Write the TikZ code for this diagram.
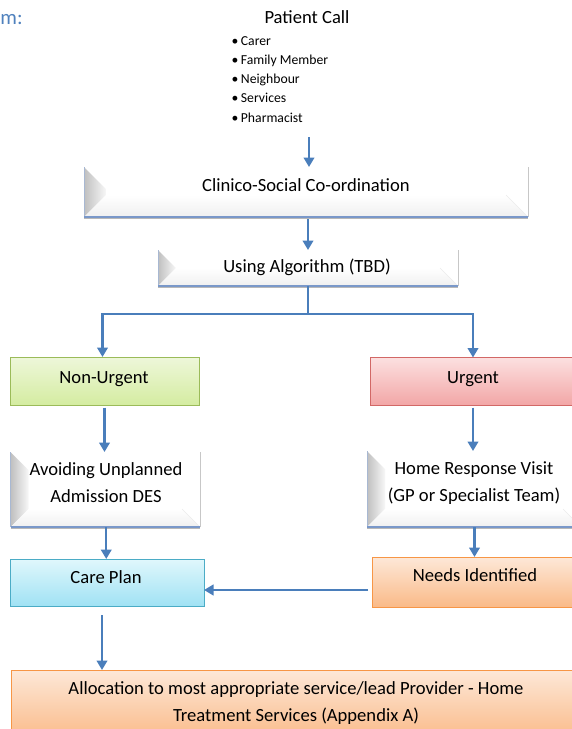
\documentclass[tikz,border=0pt]{standalone}
\usepackage{fontspec}
\setmainfont{Carlito}
\usetikzlibrary{arrows.meta,calc}
\definecolor{arrblue}{RGB}{74,126,187}
\definecolor{headblue}{RGB}{79,129,189}
\definecolor{greentop}{RGB}{238,247,218}
\definecolor{greenbot}{RGB}{212,236,160}
\definecolor{greenline}{RGB}{155,187,89}
\definecolor{redtop}{RGB}{252,224,224}
\definecolor{redbot}{RGB}{242,166,166}
\definecolor{redline}{RGB}{210,104,102}
\definecolor{cyantop}{RGB}{224,247,252}
\definecolor{cyanbot}{RGB}{160,226,244}
\definecolor{cyanline}{RGB}{75,172,198}
\definecolor{orangetop}{RGB}{253,232,216}
\definecolor{orangebot}{RGB}{250,186,136}
\definecolor{orangeline}{RGB}{247,150,70}
\definecolor{bevbot}{RGB}{122,152,201}
\definecolor{bevleft}{RGB}{168,184,210}
\newcommand\bevdeco[2]{%
  \fill[white] (#1.south west) rectangle (#1.north east);
  \shade[left color=black!25, right color=white!97!black] (#1.north west) -- ([xshift=#2,yshift=-#2]#1.north west) -- ([xshift=#2,yshift=#2]#1.south west) -- (#1.south west) -- cycle;
  \shade[top color=white, bottom color=black!6] (#1.south west) -- ([xshift=#2,yshift=#2]#1.south west) -- ([xshift=-#2,yshift=#2]#1.south east) -- (#1.south east) -- cycle;
  \draw[black!8, line width=0.6pt] ([xshift=-#2,yshift=#2]#1.south east) -- (#1.south east);
  \draw[bevleft, line width=1pt] (#1.north west) -- (#1.south west);
  \draw[black!22, line width=0.8pt] (#1.north east) -- (#1.south east);
  \draw[black!28, line width=1.2pt] ([yshift=-1.6pt]#1.south west) -- ([yshift=-1.6pt]#1.south east);
  \draw[bevbot, line width=1.8pt] (#1.south west) -- (#1.south east);
}
\tikzset{
  conn/.style={draw=arrblue, line width=2.4pt},
  arr/.style={conn, -{Triangle[width=10.5pt,length=9.5pt]}},
  txt/.style={font=\fontsize{18.6pt}{27pt}\selectfont, align=center, text=black, anchor=base},
  smalltxt/.style={font=\fontsize{13.7pt}{16pt}\selectfont, text=black, anchor=base west},
  greenbox/.style={top color=greentop, bottom color=greenbot, draw=greenline, line width=1pt},
  redbox/.style={top color=redtop, bottom color=redbot, draw=redline, line width=1pt},
  cyanbox/.style={top color=cyantop, bottom color=cyanbot, draw=cyanline, line width=1pt},
  orangebox/.style={top color=orangetop, bottom color=orangebot, draw=orangeline, line width=1pt},
  bevshape/.style={draw=none}
}
\begin{document}
\begin{tikzpicture}[x=1pt,y=-1pt, every node/.style={inner sep=0pt, outer sep=0pt}]
\useasboundingbox (0,0) rectangle (572,729);
\clip (0,0) rectangle (572,729);

% header and list
\node[font=\fontsize{20.8pt}{24pt}\selectfont, text=headblue, anchor=base west] (hd) at (0.5,24) {m:};
\node[txt] (pc) at (307,23.5) {Patient Call};
\node[smalltxt] (b1) at (231.5,45) {\textbullet\hspace{2.6pt}Carer};
\node[smalltxt] (b2) at (231.5,64.3) {\textbullet\hspace{2.6pt}Family Member};
\node[smalltxt] (b3) at (231.5,83.6) {\textbullet\hspace{2.6pt}Neighbour};
\node[smalltxt] (b4) at (231.5,102.9) {\textbullet\hspace{2.6pt}Services};
\node[smalltxt] (b5) at (231.5,122.2) {\textbullet\hspace{2.6pt}Pharmacist};
\coordinate (pcend) at (309,137);

% bevel boxes
\node[bevshape, minimum width=444pt, minimum height=50pt] (clin) at (306,192) {};
\bevdeco{clin}{22pt}
\node[bevshape, minimum width=300pt, minimum height=36pt] (using) at (308,268) {};
\bevdeco{using}{18pt}
\node[bevshape, minimum width=189.5pt, minimum height=75pt] (avd) at (105.25,489.5) {};
\bevdeco{avd}{18pt}
\node[bevshape, minimum width=214pt, minimum height=76pt] (home) at (474,489) {};
\bevdeco{home}{18pt}

% flat boxes
\node[greenbox, minimum width=189pt, minimum height=48.5pt] (nu) at (104.5,381.25) {};
\node[redbox, minimum width=206pt, minimum height=48pt] (ur) at (473,381.5) {};
\node[cyanbox, minimum width=194pt, minimum height=47pt] (care) at (107,582.5) {};
\node[orangebox, minimum width=206pt, minimum height=50pt] (needs) at (475,582) {};
\node[orangebox, minimum width=570pt, minimum height=70pt] (alloc) at (296,705) {};

% texts (multi-line nodes: base = last line)
\node[txt] (clin-t) at (306,191.5) {Clinico-Social Co-ordination};
\node[txt] (using-t) at (307,272.5) {Using Algorithm (TBD)};
\node[txt] (nu-t) at (104,383.5) {Non-Urgent};
\node[txt] (ur-t) at (473,383.5) {Urgent};
\node[txt] (avd-t) at (106,502.5) {Avoiding Unplanned\\Admission DES};
\node[txt] (home-t) at (474,501.5) {Home Response Visit\\(GP or Specialist Team)};
\node[txt] (care-t) at (106,583.5) {Care Plan};
\node[txt] (needs-t) at (475,581.5) {Needs Identified};
\node[txt] (alloc-t) at (296,721.5) {Allocation to most appropriate service/lead Provider - Home\\Treatment Services (Appendix A)};

% connectors
\draw[arr] (pcend) -- (pcend |- clin.north);
\coordinate (c1) at ([xshift=2pt,yshift=-2pt]clin.south);
\draw[arr] (c1) -- (c1 |- using.north);
\coordinate (br) at ($(using.south)+(0,28)$);
\draw[conn] (using.south) -- (br);
\coordinate (nutop) at ([xshift=-2pt]nu.north);
\draw[arr] (br) -| (nutop);
\draw[arr] (br) -| (ur.north);
\coordinate (c2) at ([yshift=-2pt]nu.south);
\draw[arr] (c2) -- (c2 |- avd.north);
\coordinate (c3) at ([yshift=-2pt]ur.south);
\draw[arr] (c3) -- (c3 |- home.north);
\coordinate (c4) at ([xshift=1pt]avd.south);
\draw[arr] (c4) -- (c4 |- care.north);
\coordinate (c5) at ([xshift=0.5pt]home.south);
\draw[arr] (c5) -- (c5 |- needs.north);
\coordinate (c6) at ([xshift=-4pt,yshift=-8pt]needs.west);
\draw[arr] (c6) -- (c6 -| care.east);
\coordinate (c7) at ([xshift=-5pt,yshift=-9pt]care.south);
\draw[arr] (c7) -- (c7 |- alloc.north);
\end{tikzpicture}
\end{document}
